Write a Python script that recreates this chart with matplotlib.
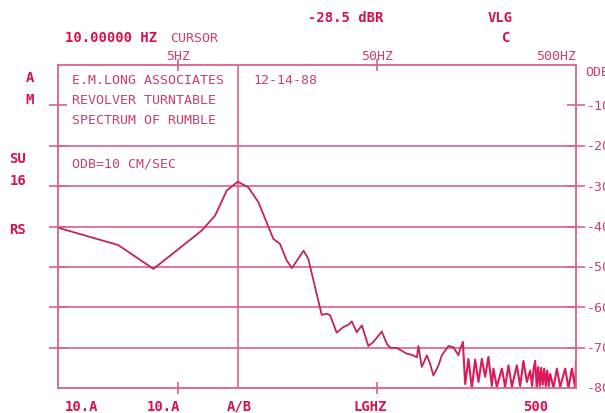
import matplotlib
matplotlib.use('Agg')
import matplotlib.pyplot as plt
from matplotlib.ticker import NullLocator

# spectrum of rumble (Hz, dB)
freq_hz = [1.25, 2.51, 3.77, 6.59, 7.69, 8.80, 10.0, 11.3, 12.7, 15.1, 16.3,
           17.6, 18.7, 21.4, 22.6, 26.4, 28.0, 29.1, 31.4, 33.9, 35.8, 37.4,
           39.6, 42.0, 45.3, 48.0, 52.9, 56.1, 58.3, 62.9, 70.7, 75.1, 79.4,
           80.8, 84.0, 89.1, 92.5, 96.1, 101.9, 105.9, 114.4, 121.1, 128.4,
           130.9, 135.1, 138.8, 144.1, 149.9, 155.7, 161.8, 168.3, 174.8,
           181.6, 188.9, 192.4, 200.1, 212.1, 220.4, 229.0, 238.2, 252.3,
           262.1, 272.3, 283.2, 294.3, 301.0, 306.4, 311.8, 317.3, 322.9,
           328.5, 334.3, 340.2, 346.2, 352.3, 358.4, 364.7, 371.0, 385.4,
           400.7, 416.4, 441.2, 458.4, 476.8, 495.3, 500.0]
level_db = [-40.3, -44.6, -50.5, -41.0, -37.3, -31.1, -28.9, -30.3, -34.0,
            -43.1, -44.3, -48.4, -50.3, -46.0, -48.0, -61.9, -61.6, -62.0,
            -66.3, -64.9, -64.4, -63.5, -66.2, -64.5, -69.6, -68.6, -66.0,
            -69.1, -70.0, -70.1, -71.5, -71.8, -72.4, -69.6, -74.8, -71.9,
            -74.0, -76.9, -74.4, -71.9, -69.6, -69.9, -71.9, -70.3, -68.7,
            -79.0, -72.8, -80.0, -73.0, -78.5, -72.8, -77.2, -72.3, -79.5,
            -75.2, -79.7, -75.2, -79.7, -74.4, -79.7, -74.4, -79.5, -73.3,
            -78.5, -75.7, -79.5, -75.2, -73.3, -79.7, -74.8, -79.5, -75.0,
            -79.2, -75.2, -79.5, -75.7, -79.5, -76.5, -80.0, -75.2, -79.7,
            -75.2, -80.0, -75.2, -80.0, -73.3]
noisy_from_hz = 135.1  # above this the trace gets dense and brighter

tick_db = [-70, -60, -50, -40, -30, -20, -10]
grid_db = [-70, -60, -50, -40, -30, -20]
right_labels = ['-80', '-70', '-60', '-50', '-40', '-30', '-20', '-10']
right_label_db = [-80, -70, -60, -50, -40, -30, -20, -10]
freq_ticks = [5, 50]
freq_tick_labels = ['5HZ', '50HZ', '500HZ']
freq_label_hz = [5, 50, 500]
cursor_hz = 10
bottom_labels = ['10.A', '10.A', 'A/B', 'LGHZ', '500']
left_labels = ['A', 'M', 'SU', '16', 'RS']
title_lines = ['E.M.LONG ASSOCIATES', 'REVOLVER TURNTABLE', 'SPECTRUM OF RUMBLE']

W, H = 605, 414
ink = '#d3124e'
thin = '#c8406c'
grid_c = '#d9628a'
line_c = '#c2245a'
hot_c = '#dc1a5a'
mono = ['DejaVu Sans Mono']


def px(x, y):
    return x / W, 1 - y / H


fig = plt.figure(figsize=(W / 100, H / 100), dpi=100)
ax = fig.add_axes([58 / W, 25 / H, 518 / W, 323 / H])
ax.set_xscale('log')
ax.set_xlim(1.25, 500)
ax.set_ylim(-80, 0)
for s in ax.spines.values():
    s.set_color(grid_c)
    s.set_linewidth(1.3)

ax.set_xticks(freq_ticks)
ax.xaxis.set_minor_locator(NullLocator())
ax.set_yticks(tick_db)
ax.tick_params(axis='x', top=True, bottom=True, direction='inout', length=8,
               width=1.2, color=grid_c, labelbottom=False)
ax.tick_params(axis='y', left=True, right=True, direction='inout', length=13,
               width=1.2, color=grid_c, labelleft=False)

for db in grid_db:
    ax.axhline(db, color=grid_c, lw=1.2)
ax.axvline(cursor_hz, color=grid_c, lw=1.2)

split = freq_hz.index(noisy_from_hz)
ax.plot(freq_hz[:split + 1], level_db[:split + 1], color=line_c, lw=1.3)
ax.plot(freq_hz[split:], level_db[split:], color=hot_c, lw=1.5)

# labels along the right edge
for lab, db in zip(right_labels, right_label_db):
    ax.text(1.02, db, lab, transform=ax.get_yaxis_transform(), ha='left',
            va='center', color=thin, fontsize=9.5, family=mono)
ax.text(1.017, -1.5, 'ODB', transform=ax.get_yaxis_transform(), ha='left',
        va='center', color=thin, fontsize=9.5, family=mono)

# frequency labels above the top border
for lab, f in zip(freq_tick_labels[:2], freq_label_hz[:2]):
    ax.text(f, 1.0 + 9 / 323, lab, transform=ax.get_xaxis_transform(),
            ha='center', va='center', color=thin, fontsize=9.5, family=mono)
ax.text(freq_label_hz[2], 1.0 + 9 / 323, freq_tick_labels[2],
        transform=ax.get_xaxis_transform(), ha='right', va='center',
        color=thin, fontsize=9.5, family=mono)

# header
fig.text(*px(65, 38), '10.00000 HZ', ha='left', va='center', color=ink,
         fontsize=10, family=mono, weight='bold')
fig.text(*px(170, 38), 'CURSOR', ha='left', va='center', color=thin,
         fontsize=9.5, family=mono)
fig.text(*px(308, 18), '-28.5 dBR', ha='left', va='center', color=ink,
         fontsize=10, family=mono, weight='bold')
fig.text(*px(488, 18), 'VLG', ha='left', va='center', color=ink,
         fontsize=10, family=mono, weight='bold')
fig.text(*px(506, 38), 'C', ha='center', va='center', color=ink,
         fontsize=10, family=mono, weight='bold')

# left margin
left_xy = [(30, 78), (30, 100), (18, 159), (18, 181), (17, 230)]
for lab, (x, y) in zip(left_labels, left_xy):
    fig.text(*px(x, y), lab, ha='center', va='center', color=ink,
             fontsize=10, family=mono, weight='bold')

# bottom row
bottom_x = [81, 164, 239, 370, 536]
for lab, x in zip(bottom_labels, bottom_x):
    fig.text(*px(x, 407), lab, ha='center', va='center', color=ink,
             fontsize=10, family=mono, weight='bold')

# annotation box text
for i, line in enumerate(title_lines):
    fig.text(*px(72, 81 + 20 * i), line, ha='left', va='center', color=thin,
             fontsize=9.5, family=mono)
fig.text(*px(253, 81), '12-14-88', ha='left', va='center', color=thin,
         fontsize=9.5, family=mono)
fig.text(*px(72, 164), 'ODB=10 CM/SEC', ha='left', va='center', color=thin,
         fontsize=9.5, family=mono)

fig.savefig('out.png', dpi=100)
